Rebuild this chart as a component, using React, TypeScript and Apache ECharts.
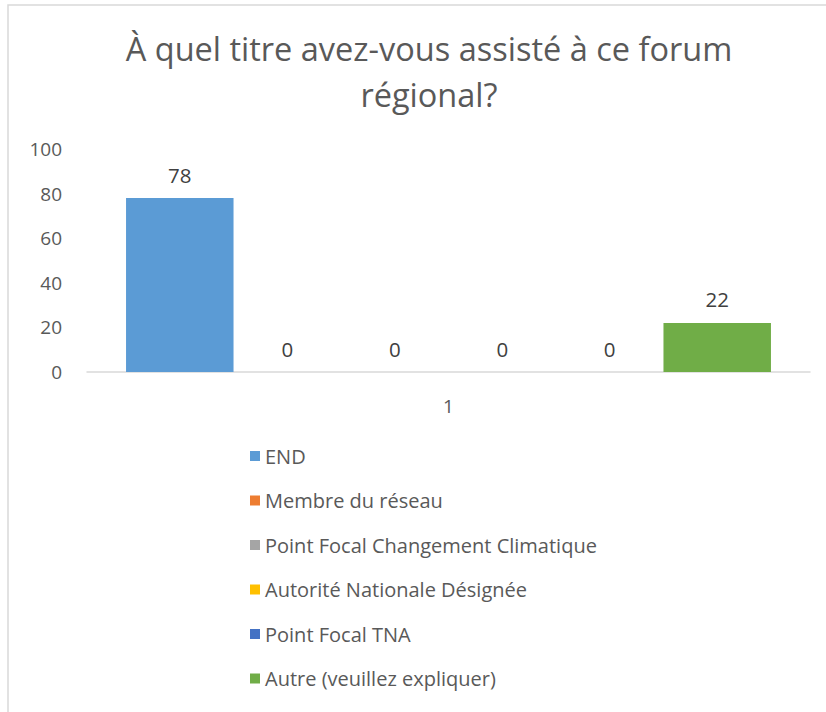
import React, { useEffect, useRef } from "react";
import * as echarts from "echarts";

const categories = ["1"];
const seriesNames = [
  "END",
  "Membre du réseau",
  "Point Focal Changement Climatique",
  "Autorité Nationale Désignée",
  "Point Focal TNA",
  "Autre (veuillez expliquer)",
];
const seriesValues = [[78], [0], [0], [0], [0], [22]];
const colors = ["#5B9BD5", "#ED7D31", "#A5A5A5", "#FFC000", "#4472C4", "#70AD47"];
const titleText = "À quel titre avez-vous assisté à ce forum\nrégional?";

export default function App() {
  const ref = useRef<HTMLDivElement>(null);
  useEffect(() => {
    if (!ref.current) return;
    const chart = echarts.init(ref.current, null, { renderer: "svg" });
    const font = "'Open Sans', Lato, sans-serif";
    chart.setOption({
      animation: false,
      backgroundColor: "#ffffff",
      title: {
        text: titleText,
        left: 424,
        textAlign: "center",
        top: 20,
        textStyle: {
          fontFamily: font,
          fontSize: 32.5,
          fontWeight: "normal",
          color: "#595959",
          lineHeight: 46,
        },
      },
      graphic: [
        {
          type: "rect",
          shape: { x: 8, y: 5, width: 830, height: 720 },
          style: { fill: "none", stroke: "#d9d9d9", lineWidth: 1.5 },
          silent: true,
        },
      ],
      legend: {
        orient: "vertical",
        left: 245,
        top: 441,
        itemWidth: 10,
        itemHeight: 10,
        itemGap: 24.5,
        icon: "rect",
        data: seriesNames,
        textStyle: {
          fontFamily: font,
          fontSize: 20,
          color: "#595959",
          lineHeight: 20,
        },
      },
      grid: { left: 87, right: 16, top: 149, bottom: 340, containLabel: false },
      xAxis: {
        type: "category",
        data: categories,
        axisLine: { lineStyle: { color: "#d9d9d9", width: 1.5 } },
        axisTick: { show: false },
        axisLabel: {
          fontFamily: font,
          fontSize: 19,
          color: "#595959",
          margin: 24,
        },
      },
      yAxis: {
        type: "value",
        min: 0,
        max: 100,
        interval: 20,
        axisLine: { show: false },
        axisTick: { show: false },
        splitLine: { show: false },
        axisLabel: {
          fontFamily: font,
          fontSize: 19,
          color: "#595959",
          margin: 25,
        },
      },
      series: seriesNames.map((name, i) => ({
        name,
        type: "bar",
        data: seriesValues[i],
        itemStyle: { color: colors[i] },
        barGap: "0%",
        barCategoryGap: "10.8%",
        label: {
          show: true,
          position: "top",
          distance: 13,
          fontFamily: font,
          fontSize: 20.5,
          color: "#404040",
        },
      })),
    });
    return () => chart.dispose();
  }, []);
  return (
    <div
      ref={ref}
      style={{ position: "absolute", left: 0, top: 0, width: 826, height: 712 }}
    />
  );
}
